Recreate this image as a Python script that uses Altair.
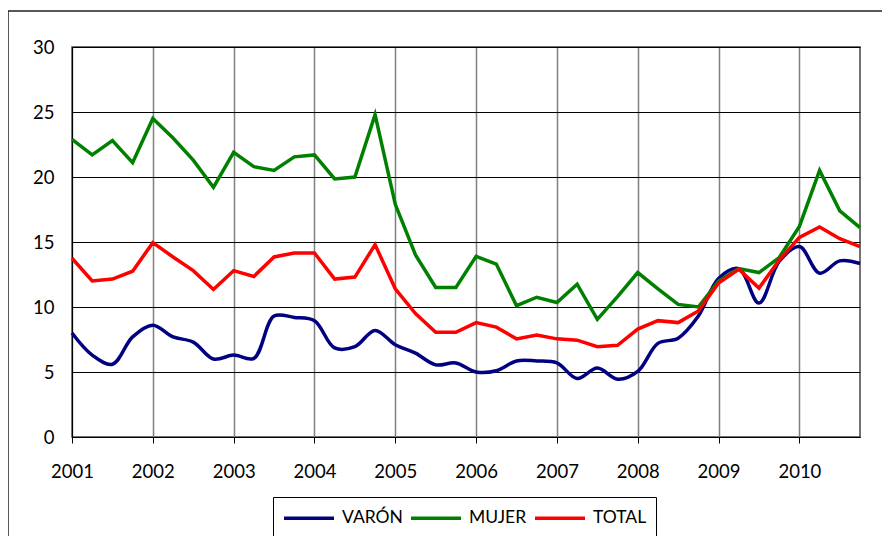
import altair as alt
import pandas as pd

# Quarterly periods 2001Q1 .. 2010Q4
years = list(range(2001, 2011))
quarters = [0, 1, 2, 3]

varon = [8.0, 6.3, 5.6, 7.7, 8.6, 7.7, 7.3, 6.0, 6.3, 6.05,
         9.3, 9.2, 8.95, 6.85, 6.95, 8.2, 7.1, 6.45, 5.55, 5.7,
         5.0, 5.1, 5.85, 5.85, 5.7, 4.5, 5.3, 4.45, 5.05, 7.2,
         7.6, 9.3, 12.2, 12.95, 10.3, 13.5, 14.65, 12.6, 13.55, 13.35]

mujer = [22.9, 21.7, 22.8, 21.1, 24.5, 23.0, 21.3, 19.2, 21.9, 20.8,
         20.5, 21.55, 21.7, 19.85, 20.0, 24.8, 17.9, 14.0, 11.5, 11.5,
         13.9, 13.3, 10.1, 10.75, 10.35, 11.75, 9.05, 10.8, 12.65, 11.4,
         10.2, 10.0, 12.0, 12.95, 12.65, 13.8, 16.2, 20.5, 17.4, 16.1]

total = [13.75, 12.0, 12.15, 12.75, 14.95, 13.85, 12.8, 11.35, 12.8, 12.35,
         13.85, 14.15, 14.15, 12.15, 12.3, 14.8, 11.4, 9.5, 8.05, 8.05,
         8.8, 8.45, 7.55, 7.85, 7.55, 7.45, 6.95, 7.05, 8.3, 8.95,
         8.8, 9.7, 11.85, 12.9, 11.45, 13.6, 15.35, 16.15, 15.25, 14.65]

series_names = ["VARÓN", "MUJER", "TOTAL"]
series_colors = ["#000080", "#008000", "#FF0000"]
y_ticks = [0, 5, 10, 15, 20, 25, 30]

periods = [y + q / 4 for y in years for q in quarters]

rows = []
for name, vals in zip(series_names, [varon, mujer, total]):
    for p, v in zip(periods, vals):
        rows.append({"periodo": p, "valor": v, "serie": name})
df = pd.DataFrame(rows)

FONT = "Lato"
TICK_FS = 18.5
LW = 3.5

color = alt.Color(
    "serie:N",
    scale=alt.Scale(domain=series_names, range=series_colors),
    legend=alt.Legend(
        title=None,
        orient="none",
        legendX=201,
        legendY=450,
        direction="horizontal",
        strokeColor="black",
        fillColor="white",
        padding=9,
        symbolType="M-1,0H4",
        symbolSize=400,
        symbolStrokeWidth=LW,
        labelFontSize=17.5,
        labelFont=FONT,
        labelColor="black",
        labelOffset=36,
        columnPadding=1,
    ),
)

x = alt.X(
    "periodo:Q",
    scale=alt.Scale(domain=[2001, 2010.75], nice=False, zero=False),
    axis=alt.Axis(
        title=None,
        values=years,
        format="d",
        tickSize=6,
        tickColor="black",
        labelPadding=19,
        labelFontSize=TICK_FS,
        labelFont=FONT,
        labelColor="black",
        gridColor="#808080",
        gridWidth=1.5,
        domainColor="black",
        labelFlush=False,
    ),
)

y = alt.Y(
    "valor:Q",
    scale=alt.Scale(domain=[0, 30], nice=False),
    axis=alt.Axis(
        title=None,
        values=y_ticks,
        ticks=False,
        labelPadding=18,
        labelFontSize=TICK_FS,
        labelFont=FONT,
        labelColor="black",
        gridColor="black",
        gridWidth=1,
        domainColor="black",
    ),
)

base = alt.Chart(df)

line_varon = base.transform_filter(alt.datum.serie == "VARÓN").mark_line(
    strokeWidth=LW, interpolate="catmull-rom"
).encode(x=x, y=y, color=color)

line_mujer = base.transform_filter(alt.datum.serie == "MUJER").mark_line(
    strokeWidth=LW
).encode(x=x, y=y, color=color)

line_total = base.transform_filter(alt.datum.serie == "TOTAL").mark_line(
    strokeWidth=LW
).encode(x=x, y=y, color=color)

border = alt.Chart(pd.DataFrame({"a": [0]})).mark_rect(
    fill="transparent", stroke="#222", strokeWidth=1.5
).encode(
    x=alt.value(-64), x2=alt.value(840), y=alt.value(-36), y2=alt.value(620)
)

chart = alt.layer(border, line_varon, line_mujer, line_total).properties(
    width=788,
    height=390,
    autosize=alt.AutoSizeParams(type="none"),
    padding={"left": 64, "top": 39, "right": 22, "bottom": 99},
    background="white",
).configure_view(stroke="#444", strokeWidth=1.5)

chart.save("out.html", embed_options={"renderer": "svg", "actions": False})
